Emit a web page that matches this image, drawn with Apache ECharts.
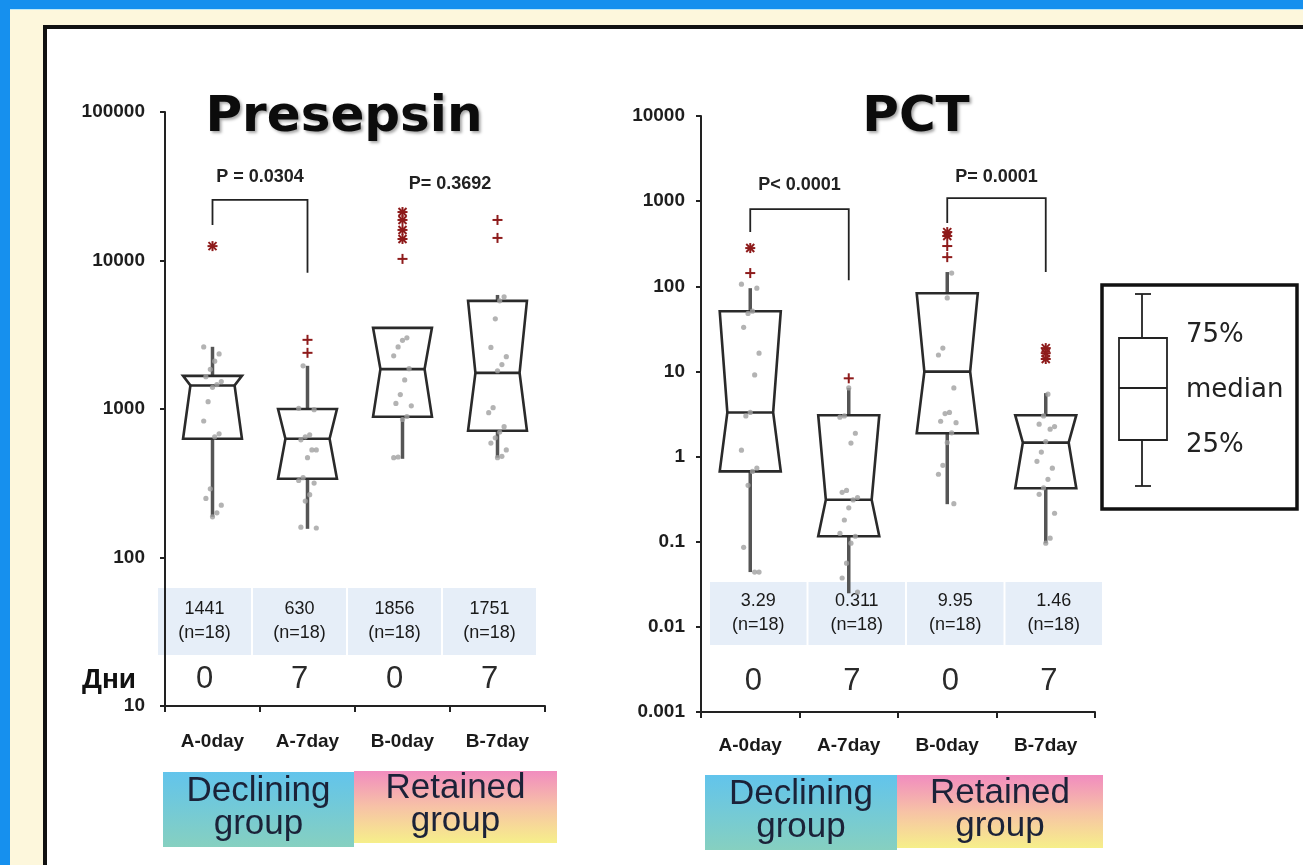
<!DOCTYPE html>
<html>
<head>
<meta charset="utf-8">
<title>Presepsin / PCT</title>
<script src="https://cdn.jsdelivr.net/npm/echarts@6/dist/echarts.min.js"></script>
<style>
  html, body { margin: 0; padding: 0; }
  body { width: 1303px; height: 865px; overflow: hidden; position: relative; background: #1690ee; }
  #cream { position: absolute; left: 10px; top: 9px; right: 0; bottom: 0; background: #fdf7dc; border-top: 1px solid #bfe9f6; }
  #panel { position: absolute; left: 43px; top: 25px; width: 1400px; height: 1000px; background: #ffffff; border: 4px solid #111; }
  #chart { position: absolute; left: 0; top: 0; width: 1303px; height: 865px; }
</style>
</head>
<body>
<div id="cream"></div>
<div id="panel"></div>
<div id="chart"></div>
<script>
// ---------- data ----------
const categories = ['A-0day', 'A-7day', 'B-0day', 'B-7day'];
const dayLabels = ['0', '7', '0', '7'];
const groupSizes = [18, 18, 18, 18];

// Presepsin (pg/mL), log scale
const presepsinTicks = ['10', '100', '1000', '10000', '100000'];
const presepsinLow = [188, 156, 462, 470];
const presepsinQ1 = [630, 339, 887, 713];
const presepsinMedian = [1441, 630, 1856, 1751];
const presepsinQ3 = [1671, 1000, 3520, 5350];
const presepsinHigh = [2623, 1954, 3520, 5860];
const presepsinPoints = [
  [2620, 2350, 2100, 1850, 1650, 1530, 1460, 1400, 1120, 830, 680, 650, 290, 250, 225, 200, 188],
  [1954, 1010, 990, 670, 650, 620, 530, 530, 470, 345, 330, 317, 265, 240, 160, 158],
  [3015, 2900, 2620, 2280, 1870, 1570, 1250, 1090, 1050, 890, 850, 475, 470],
  [5690, 5350, 4050, 2600, 2250, 1990, 1810, 1020, 945, 760, 700, 640, 590, 530, 480, 470]
];
// outliers: [category, value, marker] (marker 0 = plus, 1 = asterisk)
const presepsinOutliers = [
  [0, 12500, 1],
  [1, 2922, 0], [1, 2389, 0],
  [2, 21200, 1], [2, 18750, 1], [2, 16060, 1], [2, 13960, 1], [2, 10250, 0],
  [3, 18750, 0], [3, 14190, 0]
];
const presepsinPText = ['P = 0.0304', 'P= 0.3692'];
const presepsinPAt = [[0, 1, 36500], [2, 3, 32750]];
// brackets: [from, to, bar level, left leg end, right leg end]
const presepsinBrackets = [[0, 1, 25600, 17370, 8260]];

// PCT (ng/mL), log scale
const pctTicks = ['0.001', '0.01', '0.1', '1', '10', '100', '1000', '10000'];
const pctLow = [0.044, 0.0248, 0.276, 0.096];
const pctQ1 = [0.67, 0.116, 1.88, 0.425];
const pctMedian = [3.29, 0.311, 9.95, 1.46];
const pctQ3 = [51, 3.06, 83, 3.06];
const pctHigh = [95, 6.4, 147, 5.56];
const pctPoints = [
  [106, 95, 51, 48, 33, 16.4, 9.1, 3.3, 3.0, 1.19, 0.73, 0.67, 0.46, 0.086, 0.044, 0.044],
  [6.4, 3.0, 2.9, 1.88, 1.44, 0.40, 0.38, 0.33, 0.31, 0.25, 0.18, 0.125, 0.116, 0.096, 0.056, 0.0375, 0.0256],
  [143, 73, 18.8, 15.6, 6.4, 3.3, 3.2, 2.6, 2.5, 1.9, 1.46, 0.79, 0.62, 0.28],
  [5.4, 3.0, 2.4, 2.25, 2.1, 1.5, 1.13, 0.88, 0.73, 0.54, 0.43, 0.36, 0.216, 0.11, 0.096]
];
const pctOutliers = [
  [0, 281, 1], [0, 143, 0],
  [1, 8.3, 0],
  [2, 433, 1], [2, 389, 1], [2, 297, 0], [2, 220, 0],
  [3, 18.8, 1], [3, 16.4, 1], [3, 14.0, 1]
];
const pctPText = ['P< 0.0001', 'P= 0.0001'];
const pctPAt = [[0, 1, 1545], [2, 3, 1919]];
const pctBrackets = [[0, 1, 807, 433, 118], [2, 3, 1087, 553, 147]];

// ---------- drawing helpers ----------
const INK = '#222222';
const SANS = '"Liberation Sans", Arial, sans-serif';
const VERD = '"DejaVu Sans", Verdana, sans-serif';

function boxRows(low, q1, med, q3, high) {
  return categories.map((_, i) => [i, low[i], q1[i], med[i], q3[i], high[i]]);
}
function pointRows(points) {
  const rows = [];
  points.forEach((vals, c) => vals.forEach(v => rows.push([c, v])));
  return rows;
}

function renderBox(params, api) {
  const band = params.coordSys.width / categories.length;
  const c = api.value(0);
  const x = api.coord([c, api.value(3)])[0];
  const yLo = api.coord([c, api.value(1)])[1];
  const yQ1 = api.coord([c, api.value(2)])[1];
  const yMd = api.coord([c, api.value(3)])[1];
  const yQ3 = api.coord([c, api.value(4)])[1];
  const yHi = api.coord([c, api.value(5)])[1];
  const half = band * 0.31;
  const notch = half * 0.75;
  const whisker = { stroke: '#555', lineWidth: 3.5 };
  const edge = { stroke: '#2a2a2a', lineWidth: 2.6, fill: null };
  return {
    type: 'group',
    children: [
      { type: 'line', shape: { x1: x, y1: yQ3, x2: x, y2: yHi }, style: whisker },
      { type: 'line', shape: { x1: x, y1: yQ1, x2: x, y2: yLo }, style: whisker },
      { type: 'polygon', shape: { points: [
          [x - half, yQ3], [x + half, yQ3], [x + notch, yMd],
          [x + half, yQ1], [x - half, yQ1], [x - notch, yMd]] },
        style: edge },
      { type: 'line', shape: { x1: x - notch, y1: yMd, x2: x + notch, y2: yMd }, style: edge }
    ]
  };
}

function renderPoint(params, api) {
  const i = params.dataIndex;
  const p = api.coord([api.value(0), api.value(1)]);
  const dx = ((i * 7) % 9 - 4) * 2.2;
  return { type: 'circle', shape: { cx: p[0] + dx, cy: p[1], r: 2.6 },
    style: { fill: 'rgba(160,160,160,0.8)' } };
}

function renderOutlier(params, api) {
  const p = api.coord([api.value(0), api.value(1)]);
  const star = api.value(2) === 1;
  const s = 5;
  const st = { stroke: '#8e1b1b', lineWidth: 2 };
  const kids = [
    { type: 'line', shape: { x1: p[0] - s, y1: p[1], x2: p[0] + s, y2: p[1] }, style: st },
    { type: 'line', shape: { x1: p[0], y1: p[1] - s, x2: p[0], y2: p[1] + s }, style: st }
  ];
  if (star) {
    const d = s * 0.8;
    kids.push({ type: 'line', shape: { x1: p[0] - d, y1: p[1] - d, x2: p[0] + d, y2: p[1] + d }, style: st });
    kids.push({ type: 'line', shape: { x1: p[0] - d, y1: p[1] + d, x2: p[0] + d, y2: p[1] - d }, style: st });
  }
  return { type: 'group', children: kids };
}

function renderBracket(params, api) {
  const a = api.coord([api.value(0), api.value(2)]);
  const b = api.coord([api.value(1), api.value(2)]);
  const l = api.coord([api.value(0), api.value(3)]);
  const r = api.coord([api.value(1), api.value(4)]);
  return { type: 'polyline', shape: { points: [[l[0], l[1]], [a[0], a[1]], [b[0], b[1]], [r[0], r[1]]] },
    style: { stroke: INK, lineWidth: 1.8, fill: null } };
}

function makePText(texts) {
  return function (params, api) {
    const a = api.coord([api.value(0), api.value(2)]);
    const b = api.coord([api.value(1), api.value(2)]);
    return { type: 'text', x: (a[0] + b[0]) / 2, y: a[1],
      style: { text: texts[params.dataIndex], font: 'bold 18px ' + SANS, fill: INK,
        align: 'center', verticalAlign: 'middle' } };
  };
}

// light cells with the group median and n, plus the day number under each
function makeCells(lay) {
  return function (params, api) {
    const cs = params.coordSys;
    const band = cs.width / categories.length;
    const c = api.value(0);
    const cx = cs.x + band * (c + 0.5);
    const bottom = cs.y + cs.height;
    const top = bottom - lay.cellTop;
    const h = lay.cellTop - lay.cellBottom;
    const med = api.value(1);
    const n = api.value(2);
    return {
      type: 'group',
      children: [
        { type: 'rect', shape: { x: cx + lay.cellShift - band / 2 + 1, y: top, width: band - 2, height: h },
          style: { fill: '#e6eef8' } },
        { type: 'text', x: cx + lay.cellShift, y: top + h / 2,
          style: { text: String(med) + '\n(n=' + n + ')', font: '18px ' + SANS, lineHeight: 24,
            fill: '#1a1a1a', align: 'center', verticalAlign: 'middle' } },
        { type: 'text', x: cx + lay.dayShift, y: bottom - lay.dayY,
          style: { text: dayLabels[c], font: '31px ' + SANS, fill: '#2a2a2a',
            align: 'center', verticalAlign: 'middle' } }
      ]
    };
  };
}

function axes(idx, lay, ticks, minV, maxV) {
  const minExp = Math.round(Math.log10(minV));
  return {
    grid: { left: lay.left, top: lay.top, width: lay.width, height: lay.height, containLabel: false, outerBoundsMode: 'none' },
    xAxis: {
      type: 'category', gridIndex: idx, data: categories,
      axisLine: { lineStyle: { color: INK, width: 2 } },
      axisTick: { show: true, length: 6, lineStyle: { color: INK, width: 2 } },
      axisLabel: { margin: lay.xMargin, color: '#1a1a1a', fontFamily: SANS, fontWeight: 'bold', fontSize: 19 },
      splitLine: { show: false }
    },
    yAxis: {
      type: 'log', logBase: 10, gridIndex: idx, min: minV, max: maxV,
      axisLine: { show: true, lineStyle: { color: INK, width: 2 } },
      axisTick: { show: true, length: 5, lineStyle: { color: INK, width: 2 } },
      minorTick: { show: false },
      splitLine: { show: false },
      axisLabel: {
        margin: lay.yMargin, color: '#1e1e1e', fontFamily: SANS, fontWeight: 'bold', fontSize: 19,
        formatter: v => ticks[Math.round(Math.log10(v)) - minExp]
      }
    }
  };
}

function seriesFor(idx, lay, box, pts, outs, brackets, pAt, pText, med) {
  const base = { type: 'custom', coordinateSystem: 'cartesian2d', xAxisIndex: idx, yAxisIndex: idx, silent: true };
  return [
    Object.assign({}, base, { z: -1, renderItem: makeCells(lay), encode: { x: 0, y: 1 },
      data: categories.map((_, i) => [i, med[i], groupSizes[i]]) }),
    Object.assign({}, base, { renderItem: renderBox, encode: { x: 0, y: 3 }, data: box }),
    Object.assign({}, base, { renderItem: renderPoint, encode: { x: 0, y: 1 }, data: pointRows(pts) }),
    Object.assign({}, base, { renderItem: renderOutlier, encode: { x: 0, y: 1 }, data: outs }),
    Object.assign({}, base, { renderItem: renderBracket, encode: { x: 0, y: 2 }, data: brackets }),
    Object.assign({}, base, { renderItem: makePText(pText), encode: { x: 0, y: 2 }, data: pAt })
  ];
}

// ---------- layout ----------
const presepsinLayout = { left: 165, top: 112, width: 380, height: 594,
  cellTop: 118, cellBottom: 51, cellShift: -8, dayY: 27, dayShift: -8, xMargin: 26, yMargin: 20 };
const pctLayout = { left: 701, top: 116, width: 394, height: 596,
  cellTop: 130, cellBottom: 67, cellShift: 8, dayY: 31, dayShift: 3, xMargin: 24, yMargin: 16 };

const a1 = axes(0, presepsinLayout, presepsinTicks, 10, 100000);
const a2 = axes(1, pctLayout, pctTicks, 0.001, 10000);

function groupBox(x, y, w, h, fill, text) {
  return {
    type: 'group', x: x, y: y,
    children: [
      { type: 'rect', shape: { x: 0, y: 0, width: w, height: h }, style: { fill: fill } },
      { type: 'text', x: w / 2, y: h / 2 - 2,
        style: { text: text, font: '35px ' + SANS, lineHeight: 33, fill: '#1b2238',
          align: 'center', verticalAlign: 'middle', textAlign: 'center', textVerticalAlign: 'middle' } }
    ]
  };
}
const blueFill = { type: 'linear', x: 0, y: 0, x2: 0, y2: 1,
  colorStops: [{ offset: 0, color: '#62c4ec' }, { offset: 1, color: '#86d0c0' }] };
const rainbowFill = { type: 'linear', x: 0, y: 0, x2: 0, y2: 1,
  colorStops: [{ offset: 0, color: '#f18cbf' }, { offset: 0.5, color: '#f7c2a6' }, { offset: 1, color: '#f6ef8a' }] };

function title(text, x, y) {
  return { type: 'text', x: x, y: y,
    style: { text: text, font: 'bold 50px ' + VERD, fill: '#0c0c0c',
      align: 'center', verticalAlign: 'middle', textAlign: 'center', textVerticalAlign: 'middle',
      textShadowColor: 'rgba(0,0,0,0.35)', textShadowBlur: 3, textShadowOffsetX: 2, textShadowOffsetY: 2 } };
}

const legendKey = {
  type: 'group', x: 1102, y: 285,
  children: [
    { type: 'rect', shape: { x: 0, y: 0, width: 195, height: 224 }, style: { fill: '#fff', stroke: '#111', lineWidth: 3.5 } },
    { type: 'line', shape: { x1: 33, y1: 9, x2: 49, y2: 9 }, style: { stroke: INK, lineWidth: 1.8 } },
    { type: 'line', shape: { x1: 40, y1: 9, x2: 40, y2: 53 }, style: { stroke: INK, lineWidth: 1.8 } },
    { type: 'rect', shape: { x: 17, y: 53, width: 48, height: 102 }, style: { fill: null, stroke: INK, lineWidth: 1.8 } },
    { type: 'line', shape: { x1: 17, y1: 103, x2: 65, y2: 103 }, style: { stroke: INK, lineWidth: 1.8 } },
    { type: 'line', shape: { x1: 40, y1: 155, x2: 40, y2: 201 }, style: { stroke: INK, lineWidth: 1.8 } },
    { type: 'line', shape: { x1: 33, y1: 201, x2: 49, y2: 201 }, style: { stroke: INK, lineWidth: 1.8 } },
    { type: 'text', x: 84, y: 50, style: { text: '75%', font: '26px ' + VERD, fill: INK, verticalAlign: 'middle', textVerticalAlign: 'middle' } },
    { type: 'text', x: 84, y: 105, style: { text: 'median', font: '26px ' + VERD, fill: INK, verticalAlign: 'middle', textVerticalAlign: 'middle' } },
    { type: 'text', x: 84, y: 160, style: { text: '25%', font: '26px ' + VERD, fill: INK, verticalAlign: 'middle', textVerticalAlign: 'middle' } }
  ]
};

const option = {
  backgroundColor: 'transparent',
  animation: false,
  grid: [a1.grid, a2.grid],
  xAxis: [a1.xAxis, a2.xAxis],
  yAxis: [a1.yAxis, a2.yAxis],
  series: [].concat(
    seriesFor(0, presepsinLayout,
      boxRows(presepsinLow, presepsinQ1, presepsinMedian, presepsinQ3, presepsinHigh),
      presepsinPoints, presepsinOutliers, presepsinBrackets, presepsinPAt, presepsinPText, presepsinMedian),
    seriesFor(1, pctLayout,
      boxRows(pctLow, pctQ1, pctMedian, pctQ3, pctHigh),
      pctPoints, pctOutliers, pctBrackets, pctPAt, pctPText, pctMedian)
  ),
  graphic: [
    title('Presepsin', 344, 118),
    title('PCT', 916, 118),
    { type: 'text', x: 109, y: 680,
      style: { text: 'Дни', font: 'bold 28px ' + SANS, fill: '#111',
        align: 'center', verticalAlign: 'middle', textAlign: 'center', textVerticalAlign: 'middle' } },
    groupBox(163, 772, 191, 75, blueFill, 'Declining\ngroup'),
    groupBox(354, 771, 203, 72, rainbowFill, 'Retained\ngroup'),
    groupBox(705, 775, 192, 75, blueFill, 'Declining\ngroup'),
    groupBox(897, 775, 206, 73, rainbowFill, 'Retained\ngroup'),
    legendKey
  ]
};

const chart = echarts.init(document.getElementById('chart'), null, { renderer: 'canvas' });
chart.setOption(option);
</script>
</body>
</html>
